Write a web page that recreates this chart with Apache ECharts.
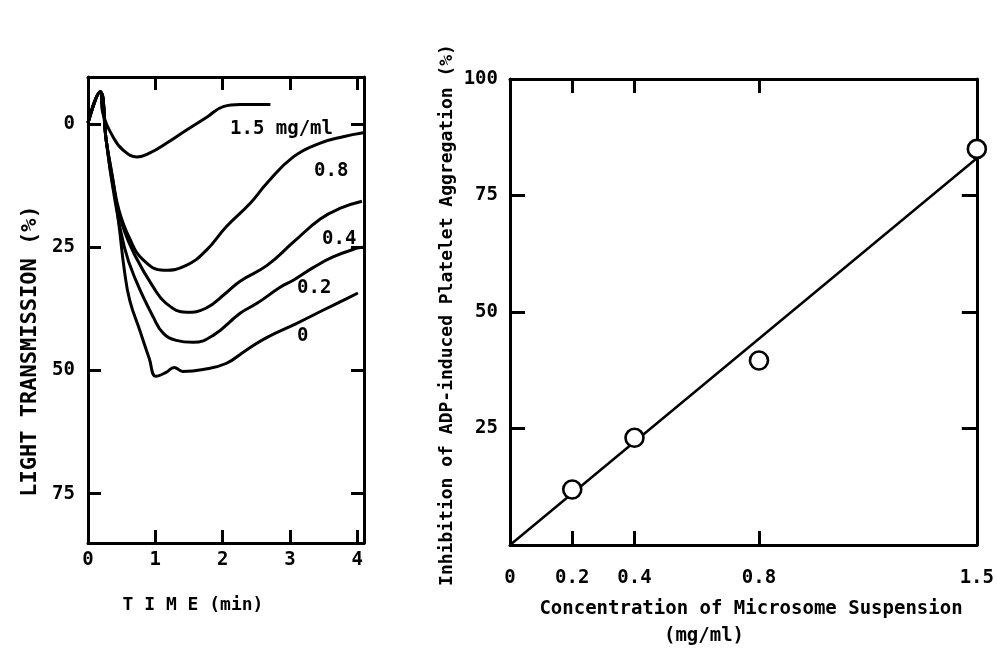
<!DOCTYPE html>
<html>
<head>
<meta charset="utf-8">
<script src="https://cdn.jsdelivr.net/npm/echarts@6/dist/echarts.min.js"></script>
<style>html,body{margin:0;padding:0;background:#fff;}#c{width:997px;height:649px;}</style>
</head>
<body>
<div id="c"></div>
<script>
// ---- Left panel: aggregation traces (time in min, light transmission %) ----
const timeTicks = [0, 1, 2, 3, 4];
const transTicks = [0, 25, 50, 75];
const curve15 = [[0,-0.2],[0.18,-6.5],[0.22,-2.2],[0.37,2.6],[0.52,5.3],[0.73,6.7],[0.92,5.9],[1.17,3.9],[1.47,1.2],[1.77,-1.4],[2.01,-3.5],[2.26,-3.9],[2.71,-3.9]];
const curve08 = [[0,-0.2],[0.18,-6.5],[0.27,3.3],[0.37,11.4],[0.46,17.5],[0.61,23.0],[0.82,27.6],[1.13,29.7],[1.46,28.7],[1.76,25.6],[2.05,20.9],[2.41,16.1],[2.66,12.0],[3.05,6.7],[3.45,3.9],[3.79,2.6],[4.09,1.8]];
const curve04 = [[0,-0.2],[0.18,-6.5],[0.27,3.3],[0.37,12.4],[0.52,20.9],[0.71,27.0],[0.97,33.1],[1.16,36.4],[1.46,38.2],[1.75,37.4],[2.05,34.3],[2.26,31.9],[2.66,28.7],[3.05,24.0],[3.45,19.3],[3.75,17.1],[4.07,15.7]];
const curve02 = [[0,-0.2],[0.18,-6.5],[0.27,3.3],[0.37,13.0],[0.54,25.0],[0.71,31.7],[0.97,39.2],[1.12,42.5],[1.31,43.9],[1.56,44.3],[1.86,42.9],[2.26,38.4],[2.51,36.4],[2.86,33.1],[3.05,31.7],[3.35,29.1],[3.64,27.0],[4.0,25.2],[4.09,25.0]];
const curve0  = [[0,-0.2],[0.18,-6.5],[0.27,3.3],[0.37,11.4],[0.46,20.5],[0.54,29.7],[0.62,35.8],[0.77,41.9],[0.91,47.6],[1.01,51.2],[1.16,50.4],[1.28,49.4],[1.41,50.2],[1.71,49.8],[2.05,48.6],[2.35,45.9],[2.66,43.3],[3.11,40.4],[3.49,37.8],[3.79,35.8],[4.01,34.3]];

// ---- Right panel: inhibition vs concentration ----
const concTicks = [0, 0.2, 0.4, 0.8, 1.5];
const inhibTicks = [25, 50, 75, 100];
const concPoints = [0.2, 0.4, 0.8, 1.5];
const inhibPoints = [11.9, 23.0, 39.6, 85.0];
const fitLine = [[0, 0], [1.5, 83]];

const monoFont = "'DejaVu Sans Mono','Liberation Mono',monospace";
const ink = '#000';

const chart = echarts.init(document.getElementById('c'), null, { renderer: 'canvas' });

function valAxis(o) {
  const tickVals = o.tickVals, labelVals = o.labelVals;
  const ax = {
    type: 'value', gridIndex: o.grid, min: o.min, max: o.max, position: o.position,
    inverse: !!o.inverse,
    splitLine: { show: false },
    axisLine: { show: true, onZero: false, lineStyle: { color: ink, width: 3 } },
    axisTick: { show: true, inside: true, length: o.tickLen || 13, customValues: tickVals, lineStyle: { color: ink, width: 3 } },
    axisLabel: labelVals ? { show: true, color: ink, fontFamily: monoFont, fontWeight: 'bold', fontSize: 19,
      margin: o.margin, customValues: labelVals, formatter: o.formatter } : { show: false }
  };
  return ax;
}

const curveStyle = {
  type: 'line', xAxisIndex: 0, yAxisIndex: 0, showSymbol: false, symbol: 'none',
  smooth: 0.45,
  lineStyle: { color: ink, width: 3 }, silent: true
};

function txt(x, y, s, size, align, rot) {
  return { type: 'text', x: x, y: y, rotation: rot || 0,
    style: { text: s, font: 'bold ' + size + 'px ' + monoFont, fill: ink, textAlign: align || 'center', textVerticalAlign: 'middle' } };
}

chart.setOption({
  animation: false,
  backgroundColor: '#fff',
  grid: [
    { left: 88, top: 77, width: 276, height: 466 },
    { left: 510, top: 79, width: 470, height: 466 }
  ],
  xAxis: [
    valAxis({ grid: 0, min: 0, max: 4.1, position: 'bottom', tickVals: timeTicks, labelVals: timeTicks, margin: 8 }),
    valAxis({ grid: 0, min: 0, max: 4.1, position: 'top', tickVals: timeTicks }),
    valAxis({ grid: 1, min: 0, max: 1.5, position: 'bottom', tickLen: 14, tickVals: [0.2, 0.4, 0.8], labelVals: concTicks, margin: 24,
      formatter: v => (v === 0 ? '0' : v.toFixed(1)) }),
    valAxis({ grid: 1, min: 0, max: 1.5, position: 'top', tickLen: 14, tickVals: [0.2, 0.4, 0.8] })
  ],
  yAxis: [
    valAxis({ grid: 0, min: -9.5, max: 85, inverse: true, position: 'left', tickVals: transTicks, labelVals: transTicks, margin: 13 }),
    valAxis({ grid: 0, min: -9.5, max: 85, inverse: true, position: 'right', tickVals: transTicks }),
    valAxis({ grid: 1, min: 0, max: 100, position: 'left', tickLen: 15, tickVals: [25, 50, 75], labelVals: inhibTicks, margin: 12 }),
    valAxis({ grid: 1, min: 0, max: 100, position: 'right', tickLen: 15, tickVals: [25, 50, 75] })
  ],
  series: [
    Object.assign({ name: '1.5 mg/ml', data: curve15 }, curveStyle),
    Object.assign({ name: '0.8', data: curve08 }, curveStyle),
    Object.assign({ name: '0.4', data: curve04 }, curveStyle),
    Object.assign({ name: '0.2', data: curve02 }, curveStyle),
    Object.assign({ name: '0', data: curve0 }, curveStyle),
    { type: 'line', xAxisIndex: 2, yAxisIndex: 2, data: fitLine, showSymbol: false, symbol: 'none',
      lineStyle: { color: ink, width: 2.5 }, silent: true, z: 2 },
    { type: 'scatter', xAxisIndex: 2, yAxisIndex: 2,
      data: concPoints.map((c, i) => [c, inhibPoints[i]]),
      symbol: 'circle', symbolSize: 18, clip: false,
      itemStyle: { color: '#fff', borderColor: ink, borderWidth: 2.6, opacity: 1 }, silent: true, z: 5 }
  ],
  graphic: [
    txt(30, 351, 'LIGHT TRANSMISSION (%)', 22, 'center', Math.PI / 2),
    txt(193, 605, 'T I M E (min)', 18, 'center'),
    txt(447, 315, 'Inhibition of ADP-induced Platelet Aggregation (%)', 18, 'center', Math.PI / 2),
    txt(751, 609, 'Concentration of Microsome Suspension', 19, 'center'),
    txt(704, 636, '(mg/ml)', 19, 'center'),
    txt(230, 129, '1.5 mg/ml', 19, 'left'),
    txt(314, 171, '0.8', 19, 'left'),
    txt(322, 239, '0.4', 19, 'left'),
    txt(297, 288, '0.2', 19, 'left'),
    txt(297, 336, '0', 19, 'left')
  ]
});
</script>
</body>
</html>
